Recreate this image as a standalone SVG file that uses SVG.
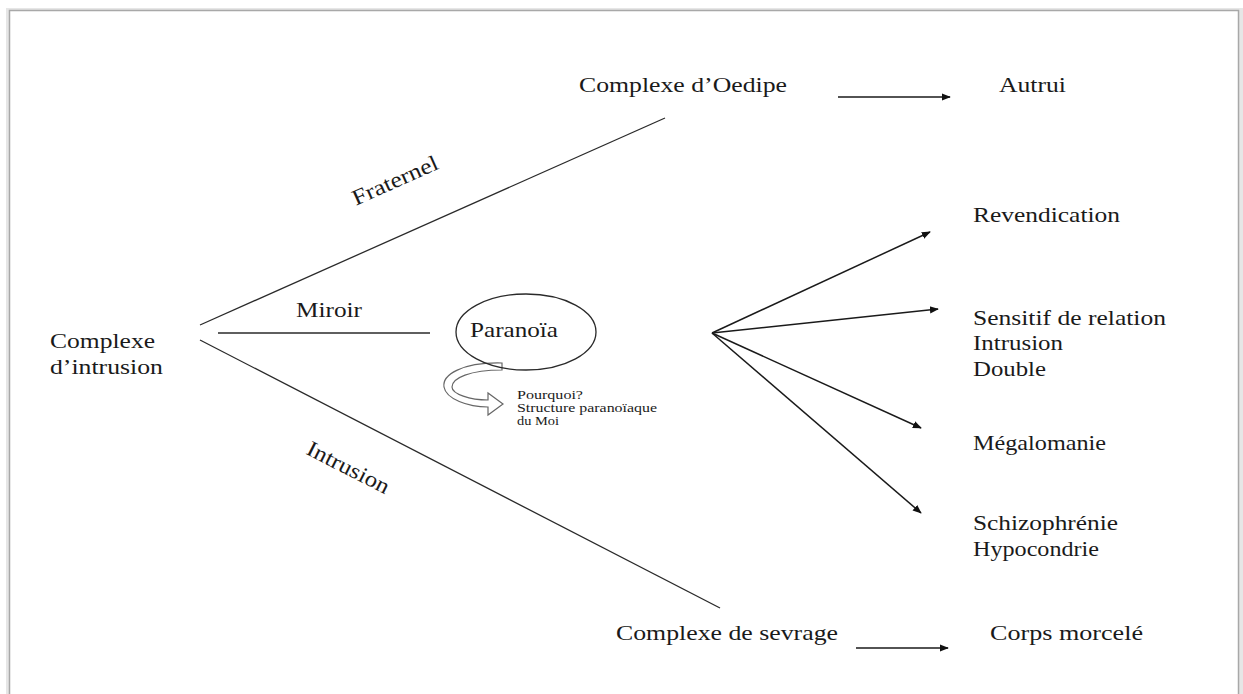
<svg xmlns="http://www.w3.org/2000/svg" width="1243" height="694" viewBox="0 0 1243 694">
<defs>
<style>
.t{font-family:"Liberation Serif","Times New Roman",serif;font-size:22px;fill:#1a1a1a}
.s{font-family:"Liberation Serif","Times New Roman",serif;font-size:12.5px;fill:#1a1a1a}
.ln{stroke:#2a2a2a;stroke-width:1.3;fill:none}
.ar{stroke:#1a1a1a;stroke-width:1.5;fill:none;marker-end:url(#ah)}
</style>
<marker id="ah" viewBox="0 0 10 10" refX="9" refY="5" markerWidth="9" markerHeight="9" markerUnits="userSpaceOnUse" orient="auto">
<path d="M0,1 L10,5 L0,9 Z" fill="#111"/>
</marker>
</defs>
<rect width="1243" height="694" fill="#ffffff"/>
<rect x="6" y="8" width="1237" height="700" fill="#e6e6e6"/>
<rect x="9.5" y="10.5" width="1229" height="700" fill="#ffffff" stroke="#a8a8a8" stroke-width="1.5"/>

<g id="connectors">
<line class="ln" x1="200" y1="325" x2="665" y2="118"/>
<line class="ln" x1="218" y1="333" x2="430" y2="333"/>
<line class="ln" x1="200" y1="340" x2="720" y2="608"/>
<line class="ar" x1="838" y1="97" x2="950" y2="97"/>
<line class="ar" x1="856" y1="648" x2="948" y2="648"/>
<line class="ar" x1="712" y1="333" x2="930" y2="232"/>
<line class="ar" x1="712" y1="333" x2="938" y2="309"/>
<line class="ar" x1="712" y1="333" x2="921" y2="428"/>
<line class="ar" x1="712" y1="333" x2="921" y2="513"/>
<path d="M502,363 C462,362 442,375 444,387 C446,399 468,407 488,407 L488,415 L503,404 L488,393 L488,400 C470,400 452,394 452,387 C452,378 470,370 502,370 Z" fill="#ffffff" stroke="#666" stroke-width="1.2"/>
</g>

<g id="labels">
<text class="t" x="398" y="187" text-anchor="middle" transform="rotate(-24 398 187)" textLength="92" lengthAdjust="spacingAndGlyphs">Fraternel</text>
<text class="t" x="296" y="317" textLength="66" lengthAdjust="spacingAndGlyphs">Miroir</text>
<text class="t" x="345" y="474" text-anchor="middle" transform="rotate(27 345 474)" textLength="90" lengthAdjust="spacingAndGlyphs">Intrusion</text>
</g>

<g id="n-intrusion">
<text class="t" x="50" y="348" textLength="105" lengthAdjust="spacingAndGlyphs">Complexe</text>
<text class="t" x="50" y="374" textLength="113" lengthAdjust="spacingAndGlyphs">d’intrusion</text>
</g>

<g id="n-oedipe"><text class="t" x="579" y="92" textLength="208" lengthAdjust="spacingAndGlyphs">Complexe d’Oedipe</text></g>
<g id="n-autrui"><text class="t" x="999" y="92" textLength="67" lengthAdjust="spacingAndGlyphs">Autrui</text></g>

<g id="n-paranoia">
<ellipse cx="526" cy="332" rx="70" ry="38" fill="none" stroke="#2a2a2a" stroke-width="1.3"/>
<text class="t" x="470" y="337" textLength="88" lengthAdjust="spacingAndGlyphs">Paranoïa</text>
</g>

<g id="n-pourquoi">
<text class="s" x="517" y="399" textLength="66" lengthAdjust="spacingAndGlyphs">Pourquoi?</text>
<text class="s" x="517" y="412" textLength="140" lengthAdjust="spacingAndGlyphs">Structure paranoïaque</text>
<text class="s" x="517" y="425" textLength="42" lengthAdjust="spacingAndGlyphs">du Moi</text>
</g>

<g id="n-revendication"><text class="t" x="973" y="222" textLength="147" lengthAdjust="spacingAndGlyphs">Revendication</text></g>
<g id="n-sensitif">
<text class="t" x="973" y="325" textLength="193" lengthAdjust="spacingAndGlyphs">Sensitif de relation</text>
<text class="t" x="973" y="350" textLength="90" lengthAdjust="spacingAndGlyphs">Intrusion</text>
<text class="t" x="973" y="376" textLength="73" lengthAdjust="spacingAndGlyphs">Double</text>
</g>
<g id="n-megalomanie"><text class="t" x="973" y="450" textLength="133" lengthAdjust="spacingAndGlyphs">Mégalomanie</text></g>
<g id="n-schizo">
<text class="t" x="973" y="530" textLength="145" lengthAdjust="spacingAndGlyphs">Schizophrénie</text>
<text class="t" x="973" y="556" textLength="126" lengthAdjust="spacingAndGlyphs">Hypocondrie</text>
</g>
<g id="n-sevrage"><text class="t" x="616" y="640" textLength="222" lengthAdjust="spacingAndGlyphs">Complexe de sevrage</text></g>
<g id="n-corps"><text class="t" x="990" y="640" textLength="153" lengthAdjust="spacingAndGlyphs">Corps morcelé</text></g>
</svg>
